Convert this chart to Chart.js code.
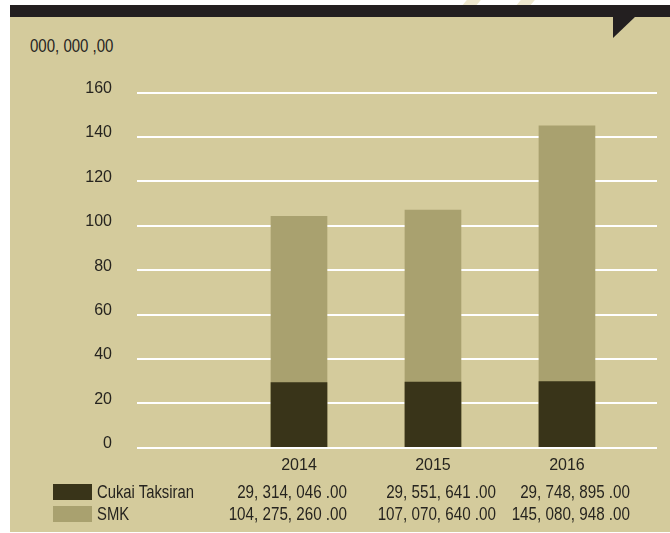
<!DOCTYPE html>
<html>
<head>
<meta charset="utf-8">
<script src="https://cdn.jsdelivr.net/npm/chart.js@4/dist/chart.umd.min.js"></script>
<style>
  body { margin: 0; background: #fff; width: 670px; height: 533px; overflow: hidden; position: relative;
         font-family: "Liberation Sans", Arial, sans-serif; color: #26241f; }
  .panel { position: absolute; left: 10px; top: 17px; width: 660px; height: 515px; background: #d4cb9c; }
  .band { position: absolute; left: 10px; top: 5px; width: 660px; height: 12px; background: #231f20; }
  .notch { position: absolute; left: 613px; top: 16px; width: 23px; height: 22px; background: #231f20;
           clip-path: polygon(0 0, 100% 0, 0 100%); }
  .mark { position: absolute; top: -4px; width: 14px; height: 10px; background: #eee8cf; transform: skewX(-40deg); }
  #chart { position: absolute; left: 0; top: 0; }
  .unit { position: absolute; left: 30px; top: 35px; font-size: 19px; transform: scaleX(0.79); transform-origin: left center; white-space: nowrap; }
  .row { position: absolute; left: 0; width: 670px; height: 22px; line-height: 22px; font-size: 19px; }
  .sw { position: absolute; left: 53px; width: 39px; height: 16px; }
  .lbl { position: absolute; left: 97px; white-space: nowrap; transform: scaleX(0.78); transform-origin: left center; }
  .num { position: absolute; text-align: right; white-space: nowrap; width: 180px; transform: scaleX(0.8); transform-origin: right center; }
</style>
</head>
<body>
<div class="mark" style="left:466px"></div>
<div class="mark" style="left:520px"></div>
<div class="band"></div>
<div class="panel"></div>
<div class="notch"></div>
<div class="unit">000, 000 ,00</div>
<canvas id="chart" width="670" height="533"></canvas>
<div id="table"></div>
<script>
const categories = ['2014', '2015', '2016'];
const cukaiTaksiran = [29314046.00, 29551641.00, 29748895.00];
const smk = [104275260.00, 107070640.00, 145080948.00];
const yTicks = [0, 20, 40, 60, 80, 100, 120, 140, 160];

const seriesNames = ['Cukai Taksiran', 'SMK'];
const seriesColors = ['#393419', '#a9a16f'];
const tickFont = { family: '"Liberation Sans", Arial, sans-serif', size: 16 };

function fmt(v) {
    // same odd spacing as the printed table
    return v.toLocaleString('en-US', { minimumFractionDigits: 2 }).replace(/,/g, ', ').replace('.', ' .');
}

function toPoints(values) {
    return values.map((v, i) => ({ x: i + 1, y: v / 1e6 }));
}

new Chart(document.getElementById('chart'), {
    type: 'bar',
    data: {
        datasets: [
            { label: seriesNames[0], data: toPoints(cukaiTaksiran), backgroundColor: seriesColors[0], barThickness: 56 },
            { label: seriesNames[1], data: toPoints(smk), backgroundColor: seriesColors[1], barThickness: 56 }
        ]
    },
    options: {
        responsive: false,
        devicePixelRatio: 1,
        animation: false,
        layout: { padding: { left: 0, top: 92.7, right: 13, bottom: 55.3 } },
        plugins: { legend: { display: false }, tooltip: { enabled: false } },
        scales: {
            x: {
                type: 'linear',
                stacked: true,
                offset: false,
                min: -0.209,
                max: 3.672,
                grid: { display: false, offset: false },
                border: { display: false },
                afterFit: s => { s.height = 30; },
                afterBuildTicks: s => { s.ticks = categories.map((c, i) => ({ value: i + 1 })); },
                ticks: {
                    color: '#26241f',
                    padding: 0,
                    font: tickFont,
                    callback: v => categories[v - 1] || ''
                }
            },
            y: {
                stacked: false,
                min: 0,
                max: 160,
                grid: { color: '#ffffff', lineWidth: 2, drawTicks: false },
                border: { display: false },
                afterFit: s => { s.width = 137; },
                afterBuildTicks: s => { s.ticks = yTicks.map(v => ({ value: v })); },
                ticks: {
                    color: '#26241f',
                    padding: 25,
                    labelOffset: -4,
                    font: tickFont
                }
            }
        }
    }
});

// legend + value table under the axis
const table = document.getElementById('table');
const rows = [cukaiTaksiran, smk];
const numRight = [347, 496, 630];
rows.forEach((vals, r) => {
    const row = document.createElement('div');
    row.className = 'row';
    row.style.top = (481 + r * 22) + 'px';
    let html = `<div class="sw" style="top:3px;background:${seriesColors[r]}"></div>`;
    html += `<div class="lbl">${seriesNames[r]}</div>`;
    vals.forEach((v, i) => {
        html += `<div class="num" style="left:${numRight[i] - 180}px">${fmt(v)}</div>`;
    });
    row.innerHTML = html;
    table.appendChild(row);
});
</script>
</body>
</html>
